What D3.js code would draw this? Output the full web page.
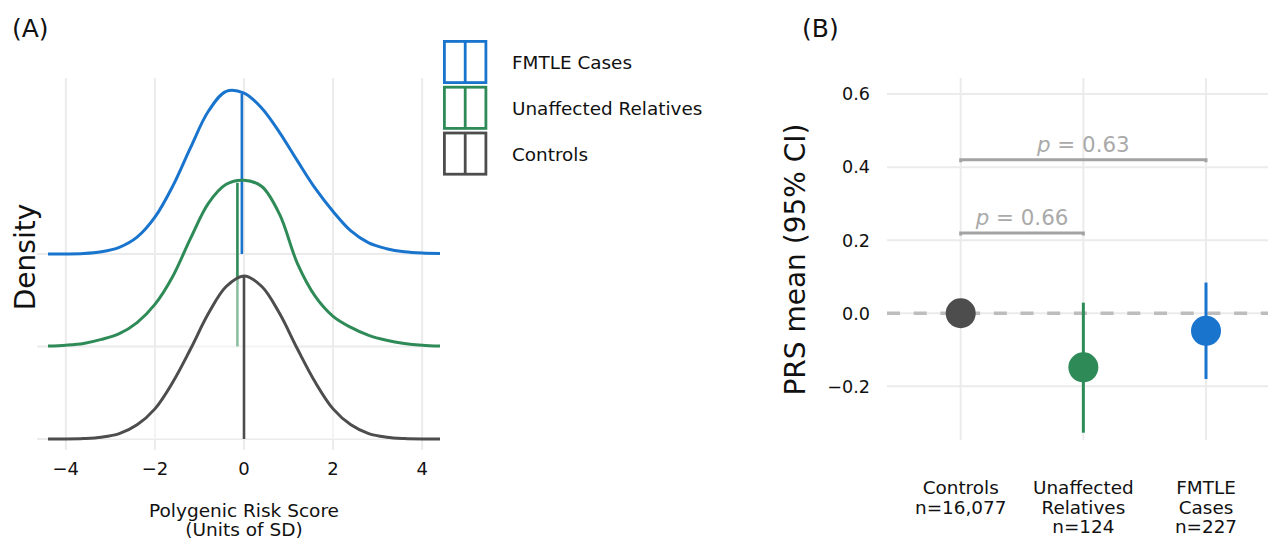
<!DOCTYPE html>
<html>
<head>
<meta charset="utf-8">
<script src="https://cdn.jsdelivr.net/npm/d3@7"></script>
<style>
  html, body { margin: 0; padding: 0; background: #fff; }
  svg { display: block; font-family: "DejaVu Sans", sans-serif; }
</style>
</head>
<body>
<svg id="chart" width="1268" height="539"></svg>
<script>
// ---------------- DATA ----------------
const groups = ["Controls", "Unaffected Relatives", "FMTLE Cases"];
const groupColors = ["#4d4d4d", "#2e8b57", "#1874cd"];
const legendOrder = ["FMTLE Cases", "Unaffected Relatives", "Controls"];

// Panel A: density curves (x in SD units)
const xGrid = [-4.4, -4.0, -3.6, -3.2, -2.8, -2.4, -2.0, -1.6, -1.2, -0.8, -0.4, 0.0, 0.4, 0.8, 1.2, 1.6, 2.0, 2.4, 2.8, 3.2, 3.6, 4.0, 4.4];
const densityControls  = [0.000, 0.000, 0.001, 0.004, 0.012, 0.032, 0.068, 0.128, 0.203, 0.283, 0.344, 0.368, 0.344, 0.283, 0.203, 0.128, 0.068, 0.032, 0.012, 0.004, 0.001, 0.000, 0.000];
const densityRelatives = [0.001, 0.003, 0.007, 0.016, 0.029, 0.054, 0.095, 0.158, 0.244, 0.323, 0.366, 0.375, 0.361, 0.298, 0.187, 0.113, 0.068, 0.043, 0.025, 0.014, 0.007, 0.003, 0.001];
const densityCases     = [0.000, 0.000, 0.001, 0.005, 0.015, 0.038, 0.083, 0.153, 0.240, 0.322, 0.367, 0.363, 0.329, 0.274, 0.210, 0.148, 0.096, 0.052, 0.025, 0.012, 0.005, 0.002, 0.001];
const groupMeans = [0.0, -0.148, -0.048];
const xTicksA = [-4, -2, 0, 2, 4];

// Panel B: PRS mean and 95% CI
const prsMean = [0.0, -0.148, -0.048];
const ciLow   = [-0.012, -0.327, -0.180];
const ciHigh  = [0.012, 0.029, 0.084];
const xLabelsB = [["Controls", "n=16,077"], ["Unaffected", "Relatives", "n=124"], ["FMTLE", "Cases", "n=227"]];
const yTicksB = [-0.2, 0.0, 0.2, 0.4, 0.6];
const brackets = [
  { from: "Controls", to: "FMTLE Cases", y: 0.42, p: "0.63" },
  { from: "Controls", to: "Unaffected Relatives", y: 0.22, p: "0.66" }
];

// ---------------- DRAW ----------------
const svg = d3.select("#chart");
const grid = "#ebebeb";
const densities = [densityControls, densityRelatives, densityCases];

// ===== Panel A =====
const xA = d3.scaleLinear().domain([-4.4, 4.4]).range([48, 440]);
const rowA = d3.scalePoint().domain(groups).range([439, 254]);
const hA = d3.scaleLinear().domain([0, 0.37]).range([0, 164]);

const gA = svg.append("g");
gA.selectAll(".vg").data(xTicksA).enter().append("line")
  .attr("x1", d => xA(d)).attr("x2", d => xA(d))
  .attr("y1", 78).attr("y2", 450)
  .attr("stroke", grid).attr("stroke-width", 2);
gA.selectAll(".hg").data(groups).enter().append("line")
  .attr("x1", 37).attr("x2", 440)
  .attr("y1", d => rowA(d)).attr("y2", d => rowA(d))
  .attr("stroke", grid).attr("stroke-width", 2);

function interpAt(arr, x) {
  for (let i = 0; i < xGrid.length - 1; i++) {
    if (x >= xGrid[i] && x <= xGrid[i + 1]) {
      const t = (x - xGrid[i]) / (xGrid[i + 1] - xGrid[i]);
      return arr[i] + t * (arr[i + 1] - arr[i]);
    }
  }
  return 0;
}

[2, 1, 0].forEach(gi => {
  const g = groups[gi];
  const base = rowA(g);
  const pts = xGrid.map((x, i) => [x, densities[gi][i]]);
  const yOf = d => base - hA(d[1]);
  const area = d3.area().x(d => xA(d[0])).y0(base).y1(yOf).curve(d3.curveCatmullRom.alpha(0.5));
  const line = d3.line().x(d => xA(d[0])).y(yOf).curve(d3.curveCatmullRom.alpha(0.5));
  if (gi === 0) {
    gA.append("path").datum(pts).attr("d", area)
      .attr("fill", "#fff").attr("fill-opacity", 0.45);
  }
  gA.append("path").datum(pts).attr("d", line)
    .attr("fill", "none").attr("stroke", groupColors[gi]).attr("stroke-width", 3);
  const m = groupMeans[gi];
  gA.append("line")
    .attr("x1", xA(m)).attr("x2", xA(m))
    .attr("y1", base).attr("y2", base - hA(interpAt(densities[gi], m)) + 1)
    .attr("stroke", groupColors[gi]).attr("stroke-width", 2.6);
});

gA.selectAll(".xt").data(xTicksA).enter().append("text")
  .attr("x", d => xA(d)).attr("y", 475)
  .attr("text-anchor", "middle").attr("font-size", 18).attr("fill", "#111")
  .text(d => d3.format("d")(d).replace("-", "\u2212"));
gA.append("text").attr("x", 244).attr("y", 517).attr("text-anchor", "middle")
  .attr("font-size", 18.5).attr("fill", "#111").text("Polygenic Risk Score");
gA.append("text").attr("x", 244).attr("y", 536).attr("text-anchor", "middle")
  .attr("font-size", 18.5).attr("fill", "#111").text("(Units of SD)");
gA.append("text").attr("transform", "translate(35,257) rotate(-90)")
  .attr("text-anchor", "middle").attr("font-size", 28).attr("fill", "#111").text("Density");
svg.append("text").attr("x", 12).attr("y", 37).attr("font-size", 25).attr("fill", "#111").text("(A)");

const leg = svg.append("g");
legendOrder.forEach((name, i) => {
  const gi = groups.indexOf(name);
  const y0 = 41.4 + i * 45.8;
  leg.append("rect").attr("x", 444.4).attr("y", y0).attr("width", 41.5).attr("height", 41.2)
    .attr("fill", "#fff").attr("stroke", groupColors[gi]).attr("stroke-width", 2.8);
  leg.append("line").attr("x1", 465.2).attr("x2", 465.2).attr("y1", y0).attr("y2", y0 + 41.2)
    .attr("stroke", groupColors[gi]).attr("stroke-width", 2.8);
  leg.append("text").attr("x", 512).attr("y", y0 + 27.5)
    .attr("font-size", 18.4).attr("fill", "#111").text(name);
});

// ===== Panel B =====
const xB = d3.scalePoint().domain(groups).range([960.7, 1206]);
const yB = d3.scaleLinear().domain([-0.347, 0.644]).range([440, 78]);
const gB = svg.append("g");

gB.selectAll(".hgb").data(yTicksB).enter().append("line")
  .attr("x1", 887).attr("x2", 1268)
  .attr("y1", d => yB(d)).attr("y2", d => yB(d))
  .attr("stroke", grid).attr("stroke-width", 2);
gB.selectAll(".vgb").data(groups).enter().append("line")
  .attr("x1", d => xB(d)).attr("x2", d => xB(d))
  .attr("y1", 78).attr("y2", 440)
  .attr("stroke", grid).attr("stroke-width", 2);
gB.append("line").attr("x1", 887).attr("x2", 1268).attr("y1", yB(0)).attr("y2", yB(0))
  .attr("stroke", "#bdbdbd").attr("stroke-width", 3.5).attr("stroke-dasharray", "13,13.7");

gB.selectAll(".ytb").data(yTicksB).enter().append("text")
  .attr("x", 870).attr("y", d => yB(d)).attr("dy", "0.36em")
  .attr("text-anchor", "end").attr("font-size", 17.6).attr("fill", "#111")
  .text(d => d3.format(".1f")(d).replace("-", "\u2212"));

brackets.forEach(b => {
  const x1 = xB(b.from), x2 = xB(b.to), y = yB(b.y);
  gB.append("path")
    .attr("d", `M${x1},${y + 2.5}L${x1},${y}L${x2},${y}L${x2},${y + 2.5}`)
    .attr("fill", "none").attr("stroke", "#a3a3a3").attr("stroke-width", 3);
  const t = gB.append("text").attr("x", (x1 + x2) / 2).attr("y", y - 7.5)
    .attr("text-anchor", "middle").attr("font-size", 21.4).attr("fill", "#aaaaaa");
  t.append("tspan").attr("font-style", "italic").text("p");
  t.append("tspan").text(" = " + b.p);
});

groups.forEach((g, i) => {
  gB.append("line").attr("x1", xB(g)).attr("x2", xB(g))
    .attr("y1", yB(ciLow[i])).attr("y2", yB(ciHigh[i]))
    .attr("stroke", groupColors[i]).attr("stroke-width", 3);
  gB.append("circle").attr("cx", xB(g)).attr("cy", yB(prsMean[i])).attr("r", 15)
    .attr("fill", groupColors[i]);
});

groups.forEach((g, i) => {
  const t = gB.append("text").attr("text-anchor", "middle").attr("font-size", 18.4).attr("fill", "#111");
  xLabelsB[i].forEach((ln, j) => {
    t.append("tspan").attr("x", xB(g)).attr("y", 494 + j * 19.6).text(ln);
  });
});

gB.append("text").attr("transform", "translate(805,259.5) rotate(-90)")
  .attr("text-anchor", "middle").attr("font-size", 28).attr("fill", "#111").text("PRS mean (95% CI)");
svg.append("text").attr("x", 802).attr("y", 37).attr("font-size", 25).attr("fill", "#111").text("(B)");
</script>
</body>
</html>
